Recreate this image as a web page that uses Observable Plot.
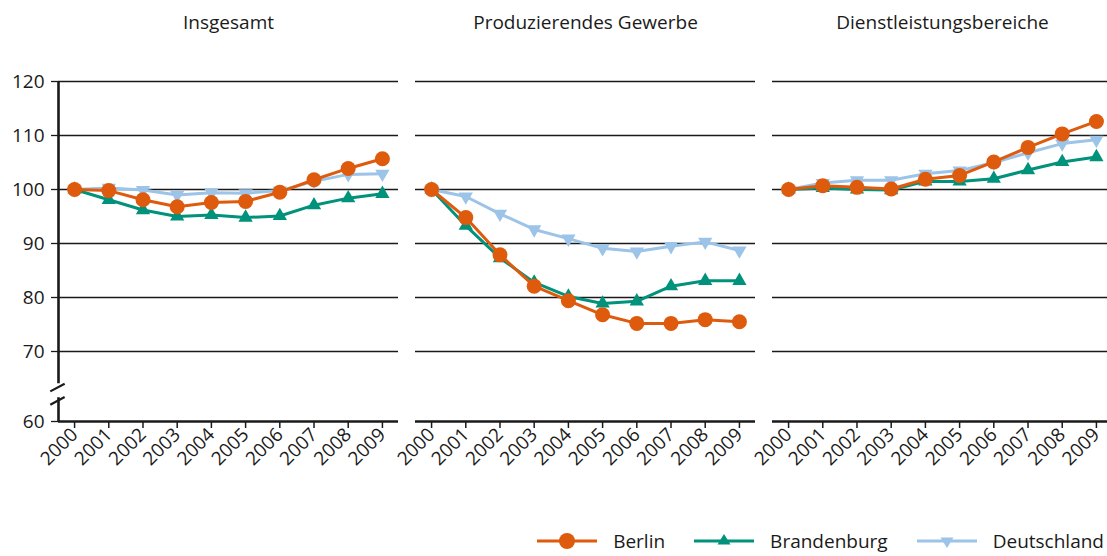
<!DOCTYPE html>
<html><head><meta charset="utf-8">
<script src="https://cdn.jsdelivr.net/npm/d3@7"></script>
<script src="https://cdn.jsdelivr.net/npm/@observablehq/plot@0.6"></script>
<style>
html,body{margin:0;padding:0;background:#fff;overflow:hidden;width:1107px;height:556px}
body{font-family:"Open Sans",sans-serif;color:#1a1a1a}
#chart{width:1107px;height:520px;overflow:hidden}
#chart svg{max-width:none;display:block}
#legend{display:flex;justify-content:flex-end;align-items:center;height:20px;margin-top:11px;font-size:19px;line-height:19px;padding-right:3px}
#legend .item{display:flex;align-items:center;margin-left:29px;height:20px}
#legend svg{margin-right:16px;display:block}
#legend span{line-height:19px;display:block}
</style></head><body><div id="chart"></div><div id="legend"></div>
<script>
const years = [2000,2001,2002,2003,2004,2005,2006,2007,2008,2009];
const panels = ["Insgesamt","Produzierendes Gewerbe","Dienstleistungsbereiche"];
const seriesNames = ["Berlin","Brandenburg","Deutschland"];
const seriesColors = ["#de5a0c","#00927b","#9cc3e8"];
const seriesSymbols = ["circle","triangle","triangle"];
const seriesRotate = [0,0,180];
const yTicks = [60,70,80,90,100,110,120];

// Insgesamt
const berlinInsgesamt      = [100,99.8,98.1,96.8,97.6,97.8,99.5,101.8,103.9,105.7];
const brandenburgInsgesamt = [100,98.1,96.2,95.0,95.3,94.8,95.1,97.1,98.4,99.2];
const deutschlandInsgesamt = [100,100.3,99.9,99.0,99.4,99.3,99.8,101.5,102.8,102.9];
// Produzierendes Gewerbe
const berlinProd      = [100,94.8,87.9,82.1,79.4,76.8,75.2,75.2,75.9,75.5];
const brandenburgProd = [100,93.3,87.3,82.8,80.2,78.9,79.3,82.1,83.1,83.1];
const deutschlandProd = [100,98.7,95.5,92.6,90.9,89.1,88.5,89.5,90.3,88.7];
// Dienstleistungsbereiche
const berlinDienst      = [100,100.7,100.4,100.1,101.9,102.6,105.1,107.8,110.3,112.6];
const brandenburgDienst = [100,100.3,100.0,99.9,101.5,101.5,102.0,103.6,105.1,106.0];
const deutschlandDienst = [100,101.2,101.7,101.7,102.9,103.5,105.0,106.8,108.5,109.2];

// axis break (value positions on the y axis)
const axisBreakGap = [63.4, 65.4];
const breakSlashes = [[64.3, 65.4],[62.4, 63.5]];

const valuesBy = {
  "Berlin": [berlinInsgesamt, berlinProd, berlinDienst],
  "Brandenburg": [brandenburgInsgesamt, brandenburgProd, brandenburgDienst],
  "Deutschland": [deutschlandInsgesamt, deutschlandProd, deutschlandDienst]
};
const data = [];
for (const s of seriesNames) {
  panels.forEach((p, pi) => {
    years.forEach((yr, i) => data.push({series: s, panel: p, year: yr, value: valuesBy[s][pi][i]}));
  });
}

const W = 1113, H = 520, mt = 81, mb = H - 421, ml = 57, mr = 1;
const xDomain = [years[0] - 0.47, years[years.length-1] + 0.47];
const xMin = xDomain[0];
const firstPanel = panels[0];
const f = "Open Sans, sans-serif";

const marks = [
  Plot.gridY({ticks: yTicks.slice(1), stroke: "#1a1a1a", strokeOpacity: 1, strokeWidth: 1.3}),
  Plot.ruleY([yTicks[0]], {stroke: "#1a1a1a", strokeWidth: 2.6}),
  // left vertical axis line with break (first panel only)
  Plot.ruleX([{fx: firstPanel, y1: yTicks[0], y2: axisBreakGap[0]}, {fx: firstPanel, y1: axisBreakGap[1], y2: yTicks[yTicks.length-1]}],
    {x: () => xMin, y1: "y1", y2: "y2", fx: "fx", stroke: "#1a1a1a", strokeWidth: 2.6}),
  Plot.link(breakSlashes.map(([a, b]) => ({fx: firstPanel, a, b})),
    {x1: () => xMin - 0.24, x2: () => xMin + 0.18, y1: "a", y2: "b", fx: "fx", stroke: "#1a1a1a", strokeWidth: 2.2}),
  Plot.axisY({ticks: yTicks, tickSize: 7, tickPadding: 7, fontSize: 19, stroke: "#1a1a1a", strokeWidth: 1.3, label: null, tickFormat: d => String(d)}),
  Plot.axisX({ticks: years, tickSize: 7, tickPadding: 3, tickRotate: -45, fontSize: 19, strokeWidth: 1.5, label: null, tickFormat: d => String(d)}),
  Plot.axisFx({anchor: "top", tickSize: 0, fontSize: 19, label: null, dy: -44})
];
// draw Deutschland first, Berlin last
[2,1,0].forEach(i => {
  const s = seriesNames[i];
  const d = data.filter(r => r.series === s);
  marks.push(Plot.line(d, {x: "year", y: "value", fx: "panel", stroke: seriesColors[i], strokeWidth: 3}));
  marks.push(Plot.dot(d, {x: "year", y: "value", fx: "panel", fill: seriesColors[i], symbol: seriesSymbols[i], r: i === 0 ? 7.5 : 5.3, rotate: seriesRotate[i], stroke: "none"}));
});

const chart = Plot.plot({
  width: W, height: H,
  marginTop: mt, marginBottom: mb, marginLeft: ml, marginRight: mr,
  style: {fontFamily: f, fontSize: "19px", color: "#1a1a1a", background: "#fff"},
  fx: {domain: panels, padding: 0.049, axis: null},
  x: {type: "linear", domain: xDomain, axis: null},
  y: {type: "linear", domain: [yTicks[0], yTicks[1], yTicks[yTicks.length-1]], range: [H - mb, H - mb - 70, mt], axis: null},
  marks
});
document.getElementById("chart").appendChild(chart);

// legend
const lg = document.getElementById("legend");
seriesNames.forEach((s, i) => {
  const item = document.createElement("div");
  item.className = "item";
  const sym = i === 0 ? `<circle cx="30" cy="10" r="8" fill="${seriesColors[i]}"/>`
    : i === 1 ? `<path d="M30,3 L36.5,13.5 L23.5,13.5 Z" fill="${seriesColors[i]}"/>`
    : `<path d="M30,17 L36.5,6.5 L23.5,6.5 Z" fill="${seriesColors[i]}"/>`;
  item.innerHTML = `<svg width="60" height="20"><line x1="0" x2="60" y1="10" y2="10" stroke="${seriesColors[i]}" stroke-width="3"/>${sym}</svg><span>${s}</span>`;
  lg.appendChild(item);
});
</script>
</body></html>
